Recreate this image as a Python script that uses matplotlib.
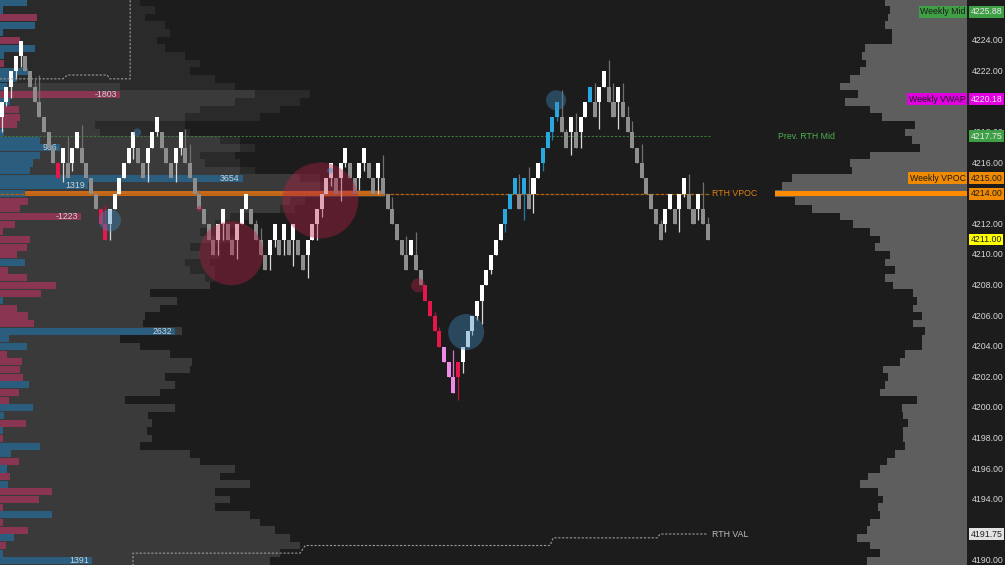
import numpy as np
import matplotlib
matplotlib.use("Agg")
import matplotlib.pyplot as plt
from matplotlib.transforms import blended_transform_factory

plt.rcParams['font.family'] = ['Liberation Sans', 'DejaVu Sans']

# ---------------- data ----------------
box_size = 1.0
prior_close = 4219.0
bar_close = [4220, 4221, 4222, 4223, 4224, 4222, 4221, 4220, 4219, 4218,
             4217, 4216, 4215, 4217, 4215, 4217, 4218, 4216, 4215, 4214,
             4213, 4212, 4211, 4213, 4214, 4215, 4216, 4217, 4218, 4216,
             4215, 4217, 4218, 4219, 4217, 4216, 4215, 4217, 4218, 4216,
             4215, 4214, 4213, 4212, 4211, 4210, 4212, 4213, 4211, 4210,
             4212, 4213, 4214, 4212, 4211, 4210, 4209, 4211, 4212, 4210,
             4212, 4210, 4212, 4210, 4209, 4211, 4212, 4213, 4214, 4215,
             4216, 4214, 4216, 4217, 4215, 4214, 4216, 4217, 4215, 4214,
             4216, 4214, 4213, 4212, 4211, 4210, 4209, 4211, 4209, 4208,
             4207, 4206, 4205, 4204, 4203, 4202, 4201, 4203, 4204, 4205,
             4206, 4207, 4208, 4209, 4210, 4211, 4212, 4213, 4214, 4215,
             4213, 4215, 4213, 4215, 4216, 4217, 4218, 4219, 4220, 4218,
             4217, 4219, 4217, 4219, 4220, 4221, 4219, 4221, 4222, 4220,
             4219, 4221, 4219, 4218, 4217, 4216, 4215, 4214, 4213, 4212,
             4211, 4213, 4214, 4212, 4214, 4215, 4213, 4212, 4214, 4212, 4211]
bar_kind = ("wwwww" "ggggggg" "r" "w" "g" "ww" "gggg" "rr" "w" "wwwww" "gg" "www"
            "ggg" "ww" "ggggggg" "wwggwww" "gggg" "ww" "gwgwgg" "wwwwww"
            "gwwggwwggw" "gggggg" "wgg" "rrrr" "vvv" "r" "wwwwwwwww" "bbb"
            "gbgwwbbbb" "ggwgwwbgwwggw" "ggggggggg" "wwgwwggwgg")
wick_low = {1: 4218.0, 2: 4219.75, 3: 4220.25, 4: 4221.5, 5: 4222.25, 14: 4214.75,
            16: 4215.5, 24: 4211.0, 29: 4216.25, 32: 4214.75, 34: 4217.75, 38: 4214.75,
            39: 4216.5, 47: 4210.0, 48: 4211.0, 51: 4209.75, 58: 4209.0, 59: 4210.5,
            61: 4210.0, 63: 4209.25, 66: 4208.5, 68: 4211.0, 69: 4212.5, 71: 4214.5,
            73: 4213.5, 74: 4215.75, 77: 4214.25, 78: 4215.5, 81: 4214.0, 98: 4200.5,
            99: 4202.25, 101: 4204.75, 102: 4205.75, 103: 4205.5, 105: 4208.75,
            108: 4211.5, 112: 4212.25, 114: 4212.75, 116: 4215.5, 118: 4217.5,
            119: 4218.75, 122: 4216.5, 124: 4217.0, 128: 4218.25, 132: 4218.25,
            142: 4211.5, 145: 4211.5, 146: 4213.75, 149: 4212.25}
wick_high = {8: 4221.5, 9: 4221.75, 15: 4217.75, 18: 4218.5, 23: 4213.25, 40: 4218.25,
             41: 4217.25, 43: 4214.25, 55: 4212.25, 56: 4211.75, 82: 4216.5, 84: 4213.75,
             87: 4211.25, 89: 4211.5, 93: 4206.25, 94: 4205.25, 97: 4203.75, 111: 4215.25,
             113: 4215.75, 120: 4220.75, 121: 4218.25, 123: 4219.25, 127: 4221.25,
             130: 4222.75, 131: 4221.25, 133: 4221.25, 134: 4219.75, 135: 4218.75,
             137: 4217.25, 141: 4212.25, 147: 4215.25, 150: 4214.75, 151: 4212.5}

row_price = [4226.5, 4226.0, 4225.5, 4225.0, 4224.5, 4224.0, 4223.5, 4223.0, 4222.5, 4222.0,
             4221.5, 4221.0, 4220.5, 4220.0, 4219.5, 4219.0, 4218.5, 4218.0, 4217.5, 4217.0,
             4216.5, 4216.0, 4215.5, 4215.0, 4214.5, 4214.0, 4213.5, 4213.0, 4212.5, 4212.0,
             4211.5, 4211.0, 4210.5, 4210.0, 4209.5, 4209.0, 4208.5, 4208.0, 4207.5, 4207.0,
             4206.5, 4206.0, 4205.5, 4205.0, 4204.5, 4204.0, 4203.5, 4203.0, 4202.5, 4202.0,
             4201.5, 4201.0, 4200.5, 4200.0, 4199.5, 4199.0, 4198.5, 4198.0, 4197.5, 4197.0,
             4196.5, 4196.0, 4195.5, 4195.0, 4194.5, 4194.0, 4193.5, 4193.0, 4192.5, 4192.0,
             4191.5, 4191.0, 4190.5, 4190.0]
left_rth_vol = [0, 0, 0, 0, 0, 0, 0, 0, 0, 0,
                0, 120, 255, 235, 200, 185, 95, 100, 220, 240,
                200, 205, 240, 300, 320, 385, 290, 280, 230, 215,
                200, 215, 190, 200, 185, 190, 205, 210, 150, 177,
                160, 145, 143, 182, 120, 140, 170, 192, 190, 165,
                175, 160, 125, 175, 148, 152, 147, 152, 140, 190,
                200, 235, 220, 250, 215, 230, 215, 250, 260, 275,
                290, 300, 280, 270]
left_all_vol = [140, 155, 145, 165, 170, 157, 165, 185, 200, 190,
                215, 235, 310, 300, 280, 260, 185, 190, 240, 255,
                235, 240, 255, 320, 335, 385, 305, 295, 250, 240,
                225, 235, 210, 220, 210, 215, 215, 210, 150, 177,
                160, 145, 143, 182, 120, 140, 170, 192, 190, 165,
                175, 160, 125, 175, 148, 152, 147, 152, 140, 190,
                200, 235, 220, 250, 215, 230, 215, 250, 260, 275,
                290, 300, 280, 270]
left_delta = [400, 50, -560, 520, 40, -300, 520, 60, -60, 420,
              250, 100, -1803, 150, -280, -300, -250, 60, 600, 906,
              600, 500, 450, 3654, 1319, 370, -420, -300, -1223, -220,
              -50, -450, -400, -250, 370, -120, -400, -850, -620, 40,
              -260, -420, -510, 2632, 140, 410, -110, -330, -300, -340,
              430, -290, -140, 500, 60, -390, 40, -50, 600, 160,
              -290, 110, -150, 120, -790, -580, -50, 790, -40, -420,
              210, -90, 40, 1391]
right_vol = [82, 77, 79, 82, 75, 75, 102, 105, 101, 107,
             117, 127, 109, 122, 97, 85, 52, 62, 55, 47,
             97, 117, 115, 175, 185, 192, 172, 155, 127, 114,
             97, 87, 92, 77, 82, 72, 82, 74, 54, 50,
             54, 45, 54, 42, 45, 45, 62, 67, 84, 79,
             82, 87, 50, 65, 64, 59, 64, 64, 62, 72,
             80, 87, 99, 107, 89, 84, 89, 87, 97, 100,
             110, 97, 87, 100]
left_poc = 4214.0
right_poc = 4214.0
delta_label_min = 900

bubble_bar = [24.0, 29.8, 43.0, 49.8, 68.7, 70.8, 89.5, 99.7, 118.8]
bubble_price = [4212.25, 4218.0, 4213.0, 4210.1, 4213.55, 4215.5, 4208.0, 4204.95, 4220.1]
bubble_radius = [11, 4, 3, 32, 38, 3, 7, 18, 10]
bubble_side = ['b', 'b', 'r', 'r', 'r', 'b', 'r', 'b', 'b']

dev_vah_bar = [0.6, 14.0, 15.0, 23.4, 24.0, 28.3, 28.3]
dev_vah_price = [4221.5, 4221.5, 4221.75, 4221.75, 4221.5, 4221.5, 4228.0]
dev_val_bar = [28.9, 28.9, 64.4, 65.5, 117.5, 118.2, 140.3, 140.9, 150.9]
dev_val_price = [4189.0, 4190.5, 4190.5, 4191.0, 4191.0, 4191.5, 4191.5, 4191.75, 4191.75]

prev_rth_mid = 4217.75
rth_vpoc = 4214.00
rth_val = 4191.75

tick_prices = [4190, 4194, 4196, 4198, 4200, 4202, 4204, 4206, 4208,
               4210, 4212, 4216, 4218, 4220, 4222, 4224]
axis_boxes = [(4225.88, '#3f9f45', '#eaeaea'), (4220.18, '#e000e0', '#f0e0f0'),
              (4217.75, '#3f9f45', '#eaeaea'), (4215.00, '#f08a00', '#202020'),
              (4214.00, '#f08a00', '#202020'), (4211.00, '#ffff00', '#202020'),
              (4191.75, '#e2e2e2', '#202020')]
level_names = ["Weekly Mid", "Weekly VWAP", "Weekly VPOC"]
level_prices = [4225.88, 4220.18, 4215.00]
level_colors = ['#3f9f45', '#e000e0', '#f08a00']

# ---------------- layout ----------------
W, H, DPI = 1005, 565, 100
plot_px = 967
px_per_pt = 15.3
ymax = 4224 + 40.6 / px_per_pt
ymin = ymax - H / px_per_pt
bar_px = 4.706
xlo = 1 - 1.7 / bar_px
xhi = xlo + plot_px / bar_px
fw = plot_px / W
FS = 6.3
BG = '#1c1c1c'

fig = plt.figure(figsize=(W / DPI, H / DPI), dpi=DPI)
fig.patch.set_facecolor(BG)


def mk(rect, xlim):
    a = fig.add_axes(rect)
    a.set_xlim(*xlim)
    a.set_ylim(ymin, ymax)
    a.axis('off')
    return a


# left profile
ax_lp = mk([0, 0, fw, 1], (0, plot_px))
ax_lp.barh(row_price, left_all_vol, height=0.5, color='#2a2a2a', linewidth=0, antialiased=False)
ax_lp.barh(row_price, left_rth_vol, height=0.5, color='#3a3a3a', linewidth=0, antialiased=False)
lp_len = left_rth_vol[row_price.index(left_poc)]
ax_lp.barh([left_poc], [lp_len], height=0.34, color='#c9691c', linewidth=0)

# right profile
ax_rp = mk([0, 0, fw, 1], (plot_px, 0))
ax_rp.barh(row_price, right_vol, height=0.5, color='#5e5e5e', linewidth=0, antialiased=False)
rp_len = right_vol[row_price.index(right_poc)]
ax_rp.barh([right_poc], [rp_len], height=0.34, color='#ff8c00', linewidth=0)

# delta profile
dscale = 15.05
ax_d = mk([0, 0, fw, 1], (0, plot_px * dscale))
dcol = ['#2b5e7e' if d > 0 else '#8a3653' for d in left_delta]
ax_d.barh(row_price, np.abs(left_delta), height=0.46, color=dcol, linewidth=0)
for p, d in zip(row_price, left_delta):
    if abs(d) >= delta_label_min:
        ax_d.text(abs(d) - 3 * dscale, p, str(d), ha='right', va='center',
                  fontsize=FS, color='#c9d3d9')

# candles
ax = mk([0, 0, fw, 1], (xlo, xhi))
n = len(bar_close)
xs = np.arange(1, n + 1)
opens, prev = [], prior_close
for c in bar_close:
    d = np.sign(c - prev)
    opens.append(c - d * box_size)
    prev = c
opens = np.array(opens)
closes = np.array(bar_close, dtype=float)
bot = np.minimum(opens, closes)
top = np.maximum(opens, closes)
lows = np.array([wick_low.get(i + 1, bot[i]) for i in range(n)])
highs = np.array([wick_high.get(i + 1, top[i]) for i in range(n)])
body_c = {'w': '#ffffff', 'g': '#8e8e8e', 'b': '#29a8e0', 'r': '#e8174b', 'v': '#f08ae8'}
wick_c = {'w': '#d8d8d8', 'g': '#707070', 'b': '#1d7db0', 'r': '#c0123c', 'v': '#d870c8'}

ax.hlines(prev_rth_mid, xlo, n + 0.5, colors='#3b7a3b', lw=0.8, linestyles=(0, (2, 1.5)), zorder=1)
ax.hlines(rth_vpoc, xlo, n + 0.5, colors='#b5620e', lw=0.9, linestyles=(0, (3, 1)), zorder=1)

ax.vlines(xs, lows, highs, colors=[wick_c[k] for k in bar_kind], lw=0.9, zorder=2)
ax.bar(xs, top - bot, bottom=bot, width=0.86, color=[body_c[k] for k in bar_kind],
       linewidth=0, zorder=3)

bcol = {'r': (0.71, 0.12, 0.27, 0.40), 'b': (0.24, 0.53, 0.73, 0.42)}
ax.scatter(bubble_bar, bubble_price, s=[(2 * r * 0.72) ** 2 for r in bubble_radius],
           c=[bcol[s] for s in bubble_side], edgecolors='none', zorder=4)

ax.plot(dev_vah_bar, dev_vah_price, color='#9a9a9a', lw=0.8, ls=(0, (2, 1.5)), zorder=5)
ax.plot(dev_val_bar, dev_val_price, color='#9a9a9a', lw=0.8, ls=(0, (2, 1.5)), zorder=5)

tr = blended_transform_factory(fig.transFigure, ax.transData)
ax.text(778 / W, prev_rth_mid, "Prev. RTH Mid", color='#4caf50', fontsize=FS,
        ha='left', va='center', transform=tr, zorder=6)
ax.text(712 / W, rth_vpoc, "RTH VPOC", color='#e0800f', fontsize=FS,
        ha='left', va='center', transform=tr, zorder=6)
ax.text(712 / W, rth_val, "RTH VAL", color='#bdbdbd', fontsize=FS,
        ha='left', va='center', transform=tr, zorder=6)
for name, p, col in zip(level_names, level_prices, level_colors):
    ax.text(965.5 / W, p, name, color='#1a1a1a', fontsize=FS, ha='right', va='center',
            transform=tr, zorder=7,
            bbox=dict(boxstyle='square,pad=0.17', fc=col, ec='none'))

# price axis strip
ax_r = mk([fw, 0, 1 - fw, 1], (0, W - plot_px))
for p in tick_prices:
    ax_r.text(5, p, f"{p:.2f}", color='#d6d6d6', fontsize=FS, ha='left', va='center', zorder=2)
for p, fc, tc in axis_boxes:
    ax_r.text(3.6, p, f"{p:.2f}", color=tc, fontsize=FS, ha='left', va='center', zorder=5,
              bbox=dict(boxstyle='square,pad=0.17', fc=fc, ec='none'))

fig.savefig("out.png", dpi=DPI, facecolor=BG)
